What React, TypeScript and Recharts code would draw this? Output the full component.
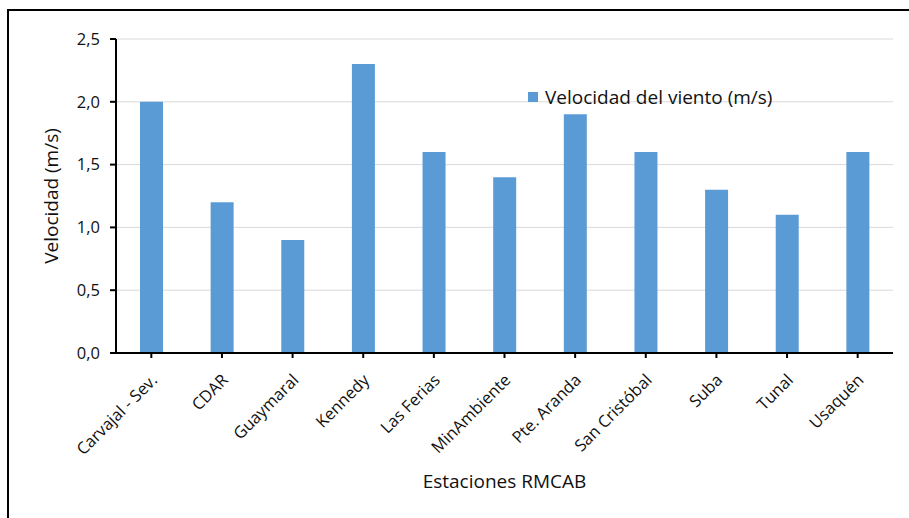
import { Bar, BarChart, CartesianGrid, XAxis, YAxis } from 'recharts'

const stations = [
  'Carvajal - Sev.',
  'CDAR',
  'Guaymaral',
  'Kennedy',
  'Las Ferias',
  'MinAmbiente',
  'Pte. Aranda',
  'San Cristóbal',
  'Suba',
  'Tunal',
  'Usaquén',
]
const windSpeed = [2.0, 1.2, 0.9, 2.3, 1.6, 1.4, 1.9, 1.6, 1.3, 1.1, 1.6]
const yTicks = [0, 0.5, 1, 1.5, 2, 2.5]

const data = stations.map((name, i) => ({ name, speed: windSpeed[i] }))

const FONT = '"Open Sans", Lato, sans-serif'
const BAR_BLUE = '#5b9bd5'
const INK = '#111'

function StationTick({ x, y, payload }: any) {
  return (
    <g transform={`translate(${x + 3},${y + 17})`}>
      <text transform="rotate(-45)" textAnchor="end" dy="0.35em" fontSize={16.5} fill={INK} fontFamily={FONT}>
        {payload.value}
      </text>
    </g>
  )
}

export default function App() {
  return (
    <div style={{ position: 'absolute', left: 0, top: 0, width: 909, height: 518, background: '#fff', overflow: 'hidden' }}>
      <div
        style={{
          position: 'absolute',
          left: 7,
          top: 9,
          width: 920,
          height: 520,
          borderLeft: '2px solid #000',
          borderTop: '2px solid #000',
        }}
      />
      <div style={{ position: 'absolute', left: 0, top: 0 }}>
        <BarChart width={909} height={518} data={data} margin={{ top: 39, right: 16, bottom: 0, left: 0 }} barSize={23}>
          <CartesianGrid vertical={false} stroke="#d9d9d9" />
          <XAxis
            dataKey="name"
            interval={0}
            height={165}
            tick={<StationTick />}
            tickSize={5}
            axisLine={{ stroke: '#000', strokeWidth: 2 }}
            tickLine={{ stroke: '#000', strokeWidth: 2 }}
            label={{
              value: 'Estaciones RMCAB',
              position: 'insideBottom',
              offset: 30,
              fontSize: 19,
              fill: INK,
              fontFamily: FONT,
            }}
          />
          <XAxis
            xAxisId="top"
            orientation="top"
            dataKey="name"
            height={0}
            tick={false}
            tickLine={false}
            axisLine={{ stroke: '#000', strokeWidth: 2 }}
          />
          <YAxis
            domain={[0, 2.5]}
            ticks={yTicks}
            width={116}
            tickSize={6}
            tickMargin={10}
            tickFormatter={(v: number) => v.toFixed(1).replace('.', ',')}
            tick={{ fontSize: 16.5, fill: INK, fontFamily: FONT }}
            axisLine={{ stroke: '#000', strokeWidth: 2 }}
            tickLine={{ stroke: '#000', strokeWidth: 2 }}
            label={{
              value: 'Velocidad (m/s)',
              angle: -90,
              position: 'insideLeft',
              offset: 51,
              style: { textAnchor: 'middle' },
              fontSize: 19,
              fill: INK,
              fontFamily: FONT,
            }}
          />
          <YAxis
            yAxisId="right"
            orientation="right"
            domain={[0, 2.5]}
            width={0}
            tick={false}
            tickLine={false}
            axisLine={{ stroke: '#000', strokeWidth: 2 }}
          />
          <Bar dataKey="speed" fill={BAR_BLUE} isAnimationActive={false} />
        </BarChart>
      </div>
      <div
        style={{
          position: 'absolute',
          left: 528,
          top: 83,
          display: 'flex',
          alignItems: 'center',
          fontFamily: FONT,
          fontSize: 19,
          lineHeight: '28px',
          color: INK,
          whiteSpace: 'nowrap',
        }}
      >
        <span style={{ width: 10, height: 10, background: BAR_BLUE, display: 'inline-block', marginRight: 7 }} />
        Velocidad del viento (m/s)
      </div>
    </div>
  )
}
